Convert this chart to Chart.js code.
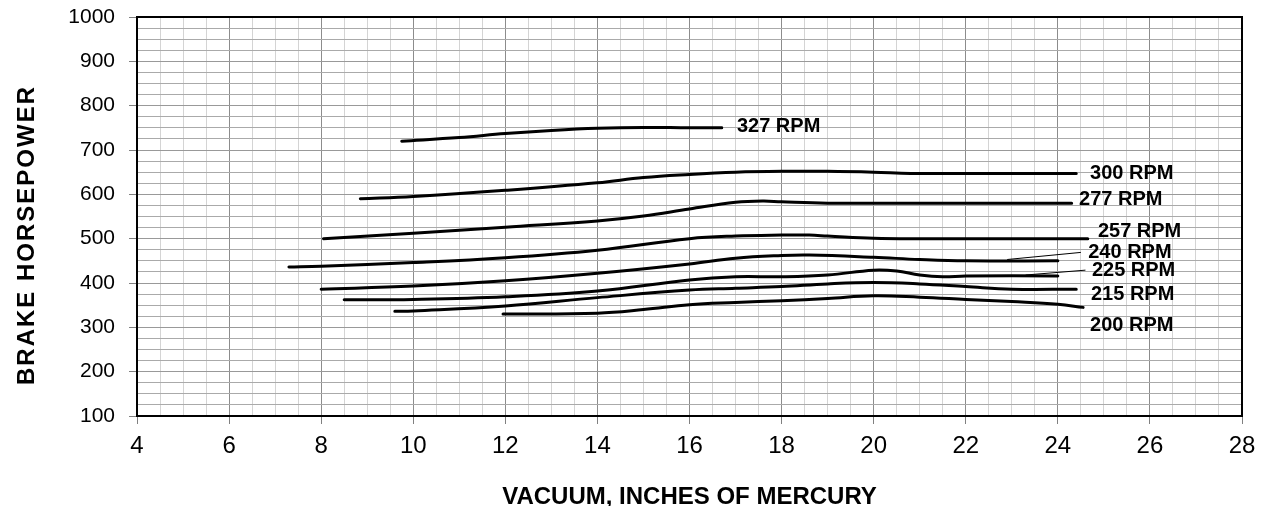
<!DOCTYPE html>
<html>
<head>
<meta charset="utf-8">
<script src="https://cdn.jsdelivr.net/npm/chart.js@4.4.0/dist/chart.umd.min.js"></script>
<style>
  html, body { margin: 0; padding: 0; background: #fff; }
  #wrap { width: 1266px; height: 506px; }
</style>
</head>
<body>
<div id="wrap"><canvas id="chartBhp"></canvas></div>
<script>
// curves: [vacuum inHg, brake hp]
const rpm327 = [[9.75,720],[11,728],[12,737],[13,744],[14,749],[15,751],[16,750],[16.7,750]];
const rpm300 = [[8.85,590],[10,595],[12,609],[14,626],[15,638],[16,645],[17,650],[18,652],[19,652],[20,650],[20.8,647],[22,647],[24.4,647]];
const rpm277 = [[8.05,500],[10,512],[12,526],[14,540],[15,551],[16,567],[17,582],[17.6,585],[18,583],[19,580],[22,580],[24.3,580]];
const rpm257 = [[7.3,436],[8,438],[10,446],[12,457],[14,474],[16,500],[17,506],[18,508],[18.6,508],[19,506],[20,501],[21,500],[24.65,500]];
const rpm240 = [[8,386],[10,393],[12,405],[14,422],[16,443],[17,456],[18,462],[18.6,463],[20,458],[21,453],[22,450],[24,450]];
const rpm225 = [[8.5,362],[10,363],[12,369],[14,382],[16,407],[17,414],[18,414],[19,418],[20,429],[20.5,427],[21,418],[21.5,414],[22,416],[24,416]];
const rpm215 = [[9.6,336],[10,337],[12,348],[14,367],[16,384],[17,388],[18,392],[19,398],[20,401],[21,398],[22,392],[23,386],[24.4,386]];
const rpm200 = [[11.95,330],[12,330],[14,332],[15,340],[16,351],[17,356],[18,360],[19,365],[20,371],[21,368],[22,363],[23,358],[24,352],[24.55,345]];

// thin pointer lines from two curve ends to their labels
const lead240 = [[22.9,453],[24.5,469]];
const lead225 = [[23.3,418],[24.6,429]];

const labelText = ['327 RPM','300 RPM','277 RPM','257 RPM','240 RPM','225 RPM','215 RPM','200 RPM'];
const labelX = [17.03, 24.7, 24.46, 24.87, 24.66, 24.74, 24.72, 24.7];
const labelY = [752, 646, 589, 517, 468, 428, 373, 305];

const xTitle = 'VACUUM, INCHES OF MERCURY';
const yTitle = 'BRAKE HORSEPOWER';

const FONT = '"Liberation Sans", Arial, sans-serif';

function pts(arr) {
    return arr.map(p => ({ x: p[0], y: p[1] }));
}

const curves = [rpm327, rpm300, rpm277, rpm257, rpm240, rpm225, rpm215, rpm200];
const datasets = curves.map((c, i) => ({
    label: labelText[i],
    data: pts(c),
    borderColor: '#000',
    borderWidth: 3,
    borderCapStyle: 'round',
    pointRadius: 0,
    tension: 0.4,
    fill: false
}));
[lead240, lead225].forEach(l => datasets.push({
    label: '',
    data: pts(l),
    borderColor: '#000',
    borderWidth: 1,
    pointRadius: 0,
    tension: 0,
    fill: false
}));

// black box round the plot area
const frame = {
    id: 'frame',
    beforeDatasetsDraw(chart) {
        const { ctx, chartArea: a } = chart;
        ctx.save();
        ctx.strokeStyle = '#000';
        ctx.lineWidth = 2;
        ctx.strokeRect(a.left, a.top, a.right - a.left, a.bottom - a.top);
        ctx.restore();
    }
};

// the RPM names next to the curves
const rpmLabels = {
    id: 'rpmLabels',
    afterDatasetsDraw(chart) {
        const { ctx, scales: { x, y } } = chart;
        ctx.save();
        ctx.font = 'bold 20px ' + FONT;
        ctx.fillStyle = '#000';
        ctx.textBaseline = 'middle';
        ctx.textAlign = 'left';
        labelText.forEach((t, i) => {
            ctx.fillText(t, x.getPixelForValue(labelX[i]), y.getPixelForValue(labelY[i]));
        });
        ctx.restore();
    }
};

// axis titles, the y one sits a bit below the middle like the original
const axisTitles = {
    id: 'axisTitles',
    afterDraw(chart) {
        const { ctx, chartArea: a } = chart;
        ctx.save();
        ctx.fillStyle = '#000';
        ctx.font = 'bold 24px ' + FONT;
        ctx.textAlign = 'center';
        ctx.textBaseline = 'middle';
        ctx.fillText(xTitle, (a.left + a.right) / 2, a.bottom + 81);
        ctx.translate(27, a.top + 218);
        ctx.rotate(-Math.PI / 2);
        ctx.letterSpacing = '2px';
        ctx.fillText(yTitle, 0, 0);
        ctx.restore();
    }
};

const config = {
    type: 'line',
    data: { datasets: datasets },
    options: {
        responsive: true,
        maintainAspectRatio: false,
        animation: false,
        layout: { padding: { top: 17, right: 24, left: 0, bottom: 0 } },
        plugins: {
            legend: { display: false },
            tooltip: { enabled: false }
        },
        scales: {
            x: {
                type: 'linear',
                min: 4,
                max: 28,
                afterFit: s => { s.height = 90; s.paddingLeft = 0; s.paddingRight = 0; },
                ticks: {
                    stepSize: 0.5,
                    autoSkip: false,
                    maxRotation: 0,
                    padding: 8,
                    color: '#000',
                    font: { family: FONT, size: 24 },
                    callback: v => (v % 2 === 0 ? v : '')
                },
                grid: {
                    color: c => (c.tick.value % 2 === 0 ? '#8c8c8c' : '#d4d4d4'),
                    tickColor: c => (c.tick.value % 2 === 0 ? '#808080' : 'rgba(0,0,0,0)'),
                    tickLength: 8
                },
                border: { color: '#000', width: 2 }
            },
            y: {
                min: 100,
                max: 1000,
                afterFit: s => { s.width = 137; s.paddingTop = 0; s.paddingBottom = 0; },
                ticks: {
                    stepSize: 25,
                    autoSkip: false,
                    padding: 14,
                    color: '#000',
                    font: { family: FONT, size: 21 },
                    callback: v => (v % 100 === 0 ? v : '')
                },
                grid: {
                    color: c => (c.tick.value % 100 === 0 ? '#999' : '#aaa'),
                    tickColor: c => (c.tick.value % 100 === 0 ? '#808080' : 'rgba(0,0,0,0)'),
                    tickLength: 8
                },
                border: { color: '#000', width: 2 }
            }
        }
    },
    plugins: [frame, rpmLabels, axisTitles]
};

const bhpChart = new Chart(document.getElementById('chartBhp'), config);
</script>
</body>
</html>
